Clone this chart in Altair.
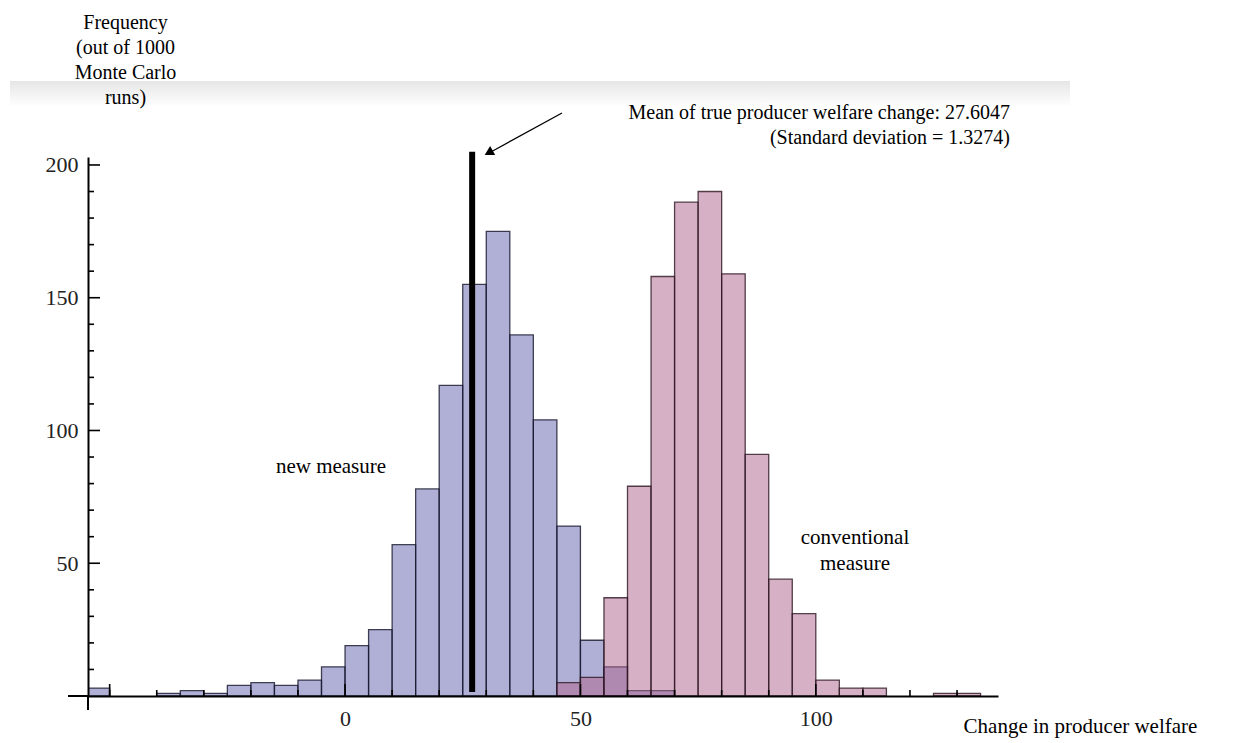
import altair as alt
import pandas as pd

# ---- data ----
bin_width = 5
new_start = [-55, -40, -35, -30, -25, -20, -15, -10, -5, 0, 5, 10, 15, 20, 25, 30, 35, 40, 45, 50, 55, 60, 65]
new_count = [3, 1, 2, 1, 4, 5, 4, 6, 11, 19, 25, 57, 78, 117, 155, 175, 136, 104, 64, 21, 11, 2, 2]
conv_start = [45, 50, 55, 60, 65, 70, 75, 80, 85, 90, 95, 100, 105, 110, 125, 130]
conv_count = [5, 7, 37, 79, 158, 186, 190, 159, 91, 44, 31, 6, 3, 3, 1, 1]
true_mean = 27.0
mean_line_top = 205
x_labels = [0, 50, 100]
y_labels = [50, 100, 150, 200]
x_minor = [-50, -40, -30, -20, -10, 10, 20, 30, 40, 60, 70, 80, 90, 110, 120, 130]
x_major = [-50, 0, 50, 100]
y_minor = [10, 20, 30, 40, 60, 70, 80, 90, 110, 120, 130, 140, 160, 170, 180, 190]
y_major = [50, 100, 150, 200]

W, H = 910, 539
XDOM = [-54.6, 138.7]
YDOM = [0, 203]
FONT = "Liberation Serif"

df_new = pd.DataFrame({"start": new_start, "count": new_count})
df_new["end"] = df_new["start"] + bin_width
df_conv = pd.DataFrame({"start": conv_start, "count": conv_count})
df_conv["end"] = df_conv["start"] + bin_width

xs = alt.Scale(domain=XDOM, nice=False, zero=False)
ys = alt.Scale(domain=YDOM, nice=False, zero=True)

x_axis = alt.Axis(values=x_labels, ticks=False, grid=False, domainColor="black", domainWidth=2,
                  labelFont=FONT, labelFontSize=22, labelColor="#222", labelPadding=12, zindex=1,
                  title="Change in producer welfare", titleFont=FONT, titleFontSize=21,
                  titleFontWeight="normal", titleColor="black", titleX=992, titleY=30,
                  titleAlign="center", titleBaseline="middle")
y_axis = alt.Axis(values=y_labels, ticks=False, grid=False, domainColor="black", domainWidth=2,
                  labelFont=FONT, labelFontSize=22, labelColor="#222", labelPadding=10, zindex=1,
                  title=["Frequency", "(out of 1000", "Monte Carlo", "runs)"], titleFont=FONT,
                  titleFontSize=20, titleFontWeight="normal", titleColor="black", titleAngle=0,
                  titleX=37, titleY=-145, titleAlign="center", titleBaseline="top", titleLineHeight=25)

bars_new = alt.Chart(df_new).mark_rect(
    fill="#6161ad", fillOpacity=0.5, stroke="#15152a", strokeOpacity=0.8, strokeWidth=1.3, clip=True
).encode(
    x=alt.X("start:Q", scale=xs, axis=x_axis),
    x2="end:Q",
    y=alt.Y("count:Q", scale=ys, axis=y_axis),
    y2=alt.datum(0),
)
bars_conv = alt.Chart(df_conv).mark_rect(
    fill="#ad6189", fillOpacity=0.5, stroke="#2a1520", strokeOpacity=0.8, strokeWidth=1.3, clip=True
).encode(
    x=alt.X("start:Q", scale=xs),
    x2="end:Q",
    y=alt.Y("count:Q", scale=ys),
    y2=alt.datum(0),
)

# ticks pointing into the plot (Mathematica style)
def yticks(vals, length):
    return alt.Chart(pd.DataFrame({"v": vals})).mark_rule(color="black", strokeWidth=1.6).encode(
        y=alt.Y("v:Q", scale=ys), x=alt.value(0), x2=alt.value(length))

def xticks(vals, length):
    return alt.Chart(pd.DataFrame({"v": vals})).mark_rule(color="black", strokeWidth=1.6).encode(
        x=alt.X("v:Q", scale=xs), y=alt.value(H), y2=alt.value(H - length))

# short overhang of the two axis lines past their crossing point
axis_ext = alt.Chart(pd.DataFrame({"a": [0]})).mark_rule(color="black", strokeWidth=2).encode(
    x=alt.value(-20), x2=alt.value(0), y=alt.value(H))
axis_ext2 = alt.Chart(pd.DataFrame({"a": [0]})).mark_rule(color="black", strokeWidth=2).encode(
    x=alt.value(0), y=alt.value(H), y2=alt.value(H + 14))

mean_df = pd.DataFrame({"x": [true_mean], "y0": [1.5], "y1": [mean_line_top]})
mean_line = alt.Chart(mean_df).mark_rule(color="black", strokeWidth=6).encode(
    x=alt.X("x:Q", scale=xs), y=alt.Y("y0:Q", scale=ys), y2="y1:Q")

def label(txt, px, py, align="center", size=21):
    return alt.Chart(pd.DataFrame({"t": [txt]})).mark_text(
        font=FONT, fontSize=size, color="black", align=align, baseline="middle", lineBreak="\n",
        lineHeight=26
    ).encode(text="t:N", x=alt.value(px), y=alt.value(py))

ann_mean = label("Mean of true producer welfare change:  27.6047", 922, -44, align="right", size=20)
ann_sd = label("(Standard deviation = 1.3274)", 922, -19, align="right", size=20)
ann_new = label("new measure", 243, 310)
ann_conv = label("conventional\nmeasure", 767, 381)

arrow_df = pd.DataFrame({"px": [474, 401], "py": [-44, -4]})
arrow_shaft = alt.Chart(arrow_df).mark_line(color="black", strokeWidth=1.3).encode(
    x=alt.X("px:Q", scale=None), y=alt.Y("py:Q", scale=None))
arrow_head = alt.Chart(pd.DataFrame({"px": [402], "py": [-5]})).mark_point(
    shape="triangle", filled=True, color="black", size=110, angle=241, opacity=1
).encode(x=alt.X("px:Q", scale=None), y=alt.Y("py:Q", scale=None))

# faint grey band behind the top text (scan artefact in the original)
band = alt.Chart(pd.DataFrame({"a": [0]})).mark_rect(
    color=alt.Gradient(gradient="linear", stops=[alt.GradientStop(color="#e6e6e6", offset=0),
                                                   alt.GradientStop(color="#ffffff", offset=1)],
                       x1=0, x2=0, y1=0, y2=1)
).encode(x=alt.value(-78), x2=alt.value(982), y=alt.value(-76), y2=alt.value(-50))

chart = alt.layer(
    band, bars_new, bars_conv,
    yticks(y_minor, 6), yticks(y_major, 12),
    xticks(x_minor, 6), xticks(x_major, 12), axis_ext, axis_ext2,
    mean_line, ann_mean, ann_sd, ann_new, ann_conv, arrow_shaft, arrow_head,
).properties(
    width=W, height=H,
    background="white",
    autosize=alt.AutoSizeParams(type="none"),
    padding={"left": 80, "top": 149, "right": 230, "bottom": 48},
).configure_view(stroke="transparent", strokeWidth=0)

chart.save("out.html", embed_options={"renderer": "svg", "actions": False})
